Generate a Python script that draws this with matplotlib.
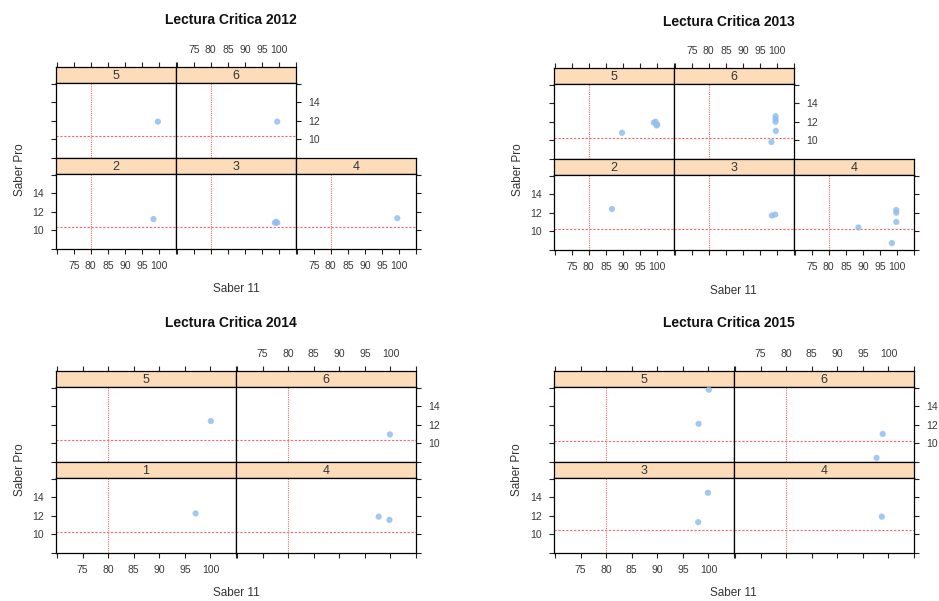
"""
Lectura Critica: Saber 11 vs Saber Pro, lattice-style panels per year.
"""

import matplotlib
matplotlib.use("Agg")
import matplotlib.pyplot as plt
from matplotlib import font_manager

# ---- data ----
years = [2012, 2013, 2014, 2015]

# panel labels per row (top row, bottom row)
rows_2012 = [["5", "6"], ["2", "3", "4"]]
rows_2013 = [["5", "6"], ["2", "3", "4"]]
rows_2014 = [["5", "6"], ["1", "4"]]
rows_2015 = [["5", "6"], ["3", "4"]]

# Saber 11 (x) and Saber Pro (y) per panel
x_2012 = {"5": [99.6], "6": [99.4], "2": [98.4], "3": [98.8, 99.5, 99.2], "4": [99.5]}
y_2012 = {"5": [11.9], "6": [11.9], "2": [11.2], "3": [10.8, 10.8, 10.9], "4": [11.3]}

x_2013 = {"5": [89.7, 99.0, 99.5, 100.0, 99.8],
          "6": [99.5, 99.5, 99.5, 99.6, 98.3],
          "2": [86.8],
          "3": [98.5, 99.5],
          "4": [88.7, 99.8, 99.8, 99.8, 98.5]}
y_2013 = {"5": [10.8, 11.9, 12.0, 11.7, 11.6],
          "6": [12.6, 12.3, 12.0, 11.0, 9.8],
          "2": [12.4],
          "3": [11.7, 11.8],
          "4": [10.4, 12.3, 12.0, 11.0, 8.7]}

x_2014 = {"5": [100.0], "6": [99.8], "1": [97.1], "4": [97.7, 99.8]}
y_2014 = {"5": [12.4], "6": [10.95], "1": [12.25], "4": [11.9, 11.55]}

x_2015 = {"5": [100.0, 98.0], "6": [98.8, 97.6], "3": [99.9, 98.0], "4": [98.7]}
y_2015 = {"5": [15.8, 12.1], "6": [11.0, 8.4], "3": [14.5, 11.3], "4": [11.9]}

# reference lines: Saber Pro per row (top, bottom) and Saber 11 cut-off
hline_2012 = [10.3, 10.35]
hline_2013 = [10.2, 10.2]
hline_2014 = [10.35, 10.2]
hline_2015 = [10.25, 10.5]
vline = 80

x_ticks = [70, 75, 80, 85, 90, 95, 100, 105]
x_labels = ["", "75", "80", "85", "90", "95", "100", ""]
y_ticks = [8, 10, 12, 14, 16]
y_labels = ["", "10", "12", "14", ""]

# ---- layout (pixels) ----
W, H = 939, 601
STRIP_H = 16
PANEL_H = 75
XLIM = (69.8, 104.9)
YLIM = (7.95, 16.1)

installed = {f.name for f in font_manager.fontManager.ttflist}
TICK_FONT = ["Liberation Sans Narrow"] if "Liberation Sans Narrow" in installed else ["Liberation Sans"]
FONT = ["Liberation Sans", "DejaVu Sans"]
STRIP_COLOR = "#fcdcb9"
POINT_COLOR = "#92bdee"
REF_COLOR = "#f06a6a"
TICK_COLOR = "#3a3a3a"

charts = [
    # year, rows, xs, ys, hlines, left, top, col width, title xy, ylabel xy, xlabel xy
    (2012, rows_2012, x_2012, y_2012, hline_2012, 56, 67, 120, (231, 20), (20, 170), (236, 289)),
    (2013, rows_2013, x_2013, y_2013, hline_2013, 554, 68, 120, (729, 22), (518, 170), (733, 291)),
    (2014, rows_2014, x_2014, y_2014, hline_2014, 56, 371, 180, (231, 323), (20, 470), (236, 593)),
    (2015, rows_2015, x_2015, y_2015, hline_2015, 554, 371, 180, (729, 323), (517, 470), (733, 593)),
]


def rect(x, y, w, h):
    """pixel box (top-left origin) -> figure fraction box."""
    return [x / W, 1 - (y + h) / H, w / W, h / H]


def style_ticks(ax):
    ax.tick_params(length=3.5, width=0.8, color="#222222", labelsize=7.5,
                   labelcolor=TICK_COLOR, pad=5)
    for lab in ax.get_xticklabels() + ax.get_yticklabels():
        lab.set_family(TICK_FONT)


fig = plt.figure(figsize=(W / 100, H / 100), dpi=100)

for year, rows, xs, ys, hlines, left, top, colw, tpos, ylpos, xlpos in charts:
    for r, row in enumerate(rows):
        y0 = top + r * (STRIP_H + PANEL_H)
        for c, lab in enumerate(row):
            x0 = left + c * colw
            last = c == len(row) - 1

            # strip
            sx = fig.add_axes(rect(x0, y0, colw, STRIP_H))
            sx.set_facecolor(STRIP_COLOR)
            sx.set_xlim(*XLIM)
            sx.set_ylim(0, 1)
            sx.set_yticks([])
            sx.text(0.5, 0.45, lab, transform=sx.transAxes, ha="center", va="center",
                    fontsize=9, color="#333333", family=FONT)
            for sp in sx.spines.values():
                sp.set_linewidth(0.9)
            if r == 0:
                sx.set_xticks(x_ticks)
                sx.xaxis.tick_top()
                sx.set_xticklabels(x_labels if c % 2 == 1 else [""] * len(x_ticks))
            else:
                sx.set_xticks([])
            style_ticks(sx)

            # panel
            ax = fig.add_axes(rect(x0, y0 + STRIP_H, colw, PANEL_H))
            ax.set_xlim(*XLIM)
            ax.set_ylim(*YLIM)
            ax.axhline(hlines[r], color=REF_COLOR, lw=0.8, ls=(0, (2, 1.5)), zorder=1)
            ax.axvline(vline, color=REF_COLOR, lw=0.8, ls=(0, (1, 1)), zorder=1)
            ax.scatter(xs[lab], ys[lab], s=20, color=POINT_COLOR, alpha=0.85,
                       edgecolors="none", zorder=3)
            for sp in ax.spines.values():
                sp.set_linewidth(0.9)

            # x axis: bottom row only (alternating labels)
            if r == len(rows) - 1:
                ax.set_xticks(x_ticks)
                ax.set_xticklabels(x_labels if c % 2 == 0 else [""] * len(x_ticks))
            else:
                ax.set_xticks([])

            # y axis: left on first column, right on last panel of the row
            ax.yaxis.set_ticks_position("none")
            ax.set_yticks(y_ticks)
            ax.set_yticklabels([""] * len(y_ticks))
            if c == 0:
                ax.tick_params(axis="y", left=True)
                if r == len(rows) - 1:
                    ax.set_yticklabels(y_labels)
            if last:
                ax.tick_params(axis="y", right=True)
                if r == 0:
                    ax.tick_params(axis="y", labelright=True, labelleft=False)
                    ax.set_yticklabels(y_labels)
            style_ticks(ax)

    fig.text(tpos[0] / W, 1 - tpos[1] / H, f"Lectura Critica {year}", ha="center",
             va="center", fontsize=10, fontweight="bold", family=FONT, color="#111111")
    fig.text(ylpos[0] / W, 1 - ylpos[1] / H, "Saber Pro", ha="center", va="center",
             rotation=90, fontsize=8.5, family=FONT, color="#333333")
    fig.text(xlpos[0] / W, 1 - xlpos[1] / H, "Saber 11", ha="center", va="center",
             fontsize=8.5, family=FONT, color="#333333")

fig.savefig("out.png", dpi=100)
plt.close(fig)
